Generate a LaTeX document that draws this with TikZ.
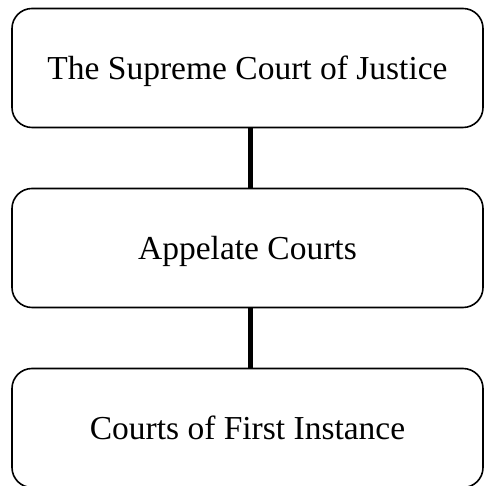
\documentclass[tikz,border=0pt]{standalone}
\usepackage{fontspec}
\setmainfont{Liberation Serif}
\begin{document}
\begin{tikzpicture}[
            x = 1pt, y = 1pt,
            every node/.style={text depth=0pt, font=\fontsize{33.5}{38}\selectfont},
            court/.style={draw, line width = 1.6pt, rounded corners = 20pt,
                minimum width = 471pt, minimum height = 119pt, inner sep = 0pt},
            link/.style={line width = 5pt},
            ]
        \useasboundingbox (0, 0) rectangle (484, 486);

        \node[court] (supreme) at (247.5, 418) {The Supreme Court of Justice};
        \node[court] (appeal) at (247.5, 238) {Appelate Courts};
        \node[court] (first) at (247.5, 58) {Courts of First Instance};

        \draw[link] ([xshift=2.5pt]supreme.south) -- ([xshift=2.5pt]appeal.north);
        \draw[link] ([xshift=2.5pt]appeal.south) -- ([xshift=2.5pt]first.north);
    \end{tikzpicture}
\end{document}
